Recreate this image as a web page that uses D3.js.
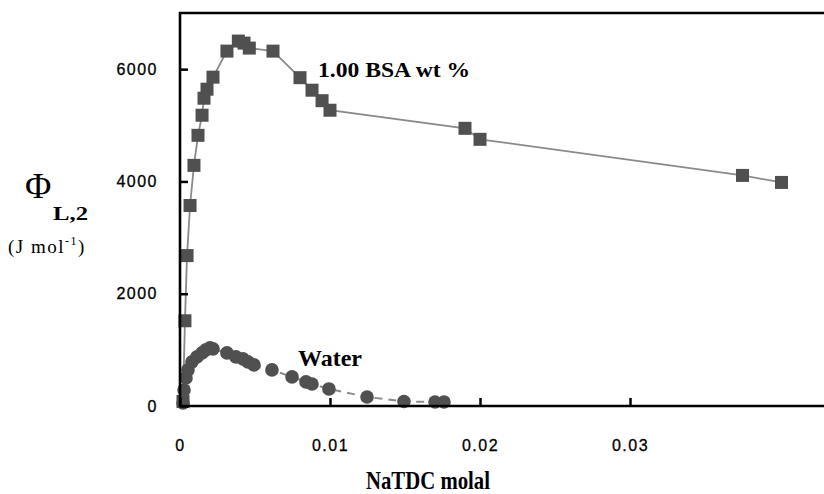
<!DOCTYPE html>
<html>
<head>
<meta charset="utf-8">
<script src="https://cdn.jsdelivr.net/npm/d3@7.9.0/dist/d3.min.js"></script>
<style>
  body { margin: 0; background: #fff; }
  svg { display: block; }
</style>
</head>
<body>
<svg id="chart" width="824" height="494"></svg>
<script>
// BSA 1.00 wt % series (squares)
const bsaX = [0.0002, 0.00033, 0.00047, 0.00067, 0.00093, 0.0012, 0.00147, 0.0016, 0.0018, 0.0022,
  0.00313, 0.00389, 0.00427, 0.00462, 0.0062, 0.008, 0.0088, 0.00947, 0.01, 0.019, 0.02, 0.0375, 0.0401];
const bsaY = [80, 1518, 2679, 3571, 4286, 4821, 5179, 5482, 5643, 5857,
  6321, 6500, 6464, 6375, 6321, 5848, 5625, 5438, 5268, 4946, 4750, 4107, 3982];

// water series (circles)
const waterX = [0.0002, 0.00027, 0.0004, 0.00053, 0.0008, 0.00113, 0.00147, 0.00173, 0.002, 0.0022,
  0.00313, 0.00373, 0.0042, 0.00453, 0.00493, 0.00613, 0.00747, 0.0084, 0.0088, 0.00993,
  0.01247, 0.01493, 0.017, 0.0176];
const waterY = [54, 286, 500, 643, 786, 875, 946, 1000, 1036, 1018,
  946, 875, 839, 786, 732, 643, 518, 429, 393, 304,
  161, 80, 71, 71];

const xTicks = [0, 0.01, 0.02, 0.03];
const xTickLabels = ["0", "0.01", "0.02", "0.03"];
const yTicks = [0, 2000, 4000, 6000];

const svg = d3.select("#chart");
const serif = "'Liberation Serif', 'Times New Roman', serif";

const x = d3.scaleLinear().domain([0, 0.045]).range([180, 855]);
const y = d3.scaleLinear().domain([0, 7000]).range([406, 13]);

const bsa = bsaX.map((d, i) => ({ x: d, y: bsaY[i] }));
const water = waterX.map((d, i) => ({ x: d, y: waterY[i] }));

const line = d3.line().x(d => x(d.x)).y(d => y(d.y));

// lines
svg.append("path")
  .attr("d", line(water))
  .attr("fill", "none")
  .attr("stroke", "#8a8a8a")
  .attr("stroke-width", 2)
  .attr("stroke-dasharray", "8,6");

svg.append("path")
  .attr("d", line(bsa))
  .attr("fill", "none")
  .attr("stroke", "#8a8a8a")
  .attr("stroke-width", 1.8);

// markers
svg.selectAll("circle.w")
  .data(water)
  .join("circle")
  .attr("class", "w")
  .attr("cx", d => x(d.x))
  .attr("cy", d => y(d.y))
  .attr("r", 6.8)
  .attr("fill", "#505050");

const sq = 13;
svg.selectAll("rect.b")
  .data(bsa)
  .join("rect")
  .attr("class", "b")
  .attr("x", d => x(d.x) - sq / 2)
  .attr("y", d => y(d.y) - sq / 2)
  .attr("width", sq)
  .attr("height", sq)
  .attr("fill", "#505050");

// axes
const yAxis = d3.axisLeft(y).tickValues(yTicks).tickSize(-8).tickPadding(22).tickFormat(d3.format("d"));
const xAxis = d3.axisBottom(x).tickValues(xTicks).tickSize(-8).tickPadding(34)
  .tickFormat((d, i) => xTickLabels[i]);

const gy = svg.append("g").attr("transform", "translate(180,0)").call(yAxis);
const gx = svg.append("g").attr("transform", "translate(0,406)").call(xAxis);

[gx, gy].forEach(g => {
  g.select(".domain").remove();
  g.selectAll(".tick line").attr("stroke", "#000").attr("stroke-width", 2.5);
  g.selectAll(".tick text")
    .attr("fill", "#000")
    .attr("stroke", "#000")
    .attr("stroke-width", 0.3)
    .style("font-family", "'Liberation Sans', Arial, sans-serif")
    .style("font-size", "16px")
    .style("letter-spacing", "1.5px");
});

// frame: left, bottom, top
svg.append("path")
  .attr("d", `M${x(0.045)},${y(7000)}H180V406H${x(0.045)}`)
  .attr("fill", "none")
  .attr("stroke", "#000")
  .attr("stroke-width", 2.6);

// series labels
svg.append("text")
  .attr("x", 318).attr("y", 77)
  .style("font-family", serif)
  .style("font-weight", "bold")
  .style("font-size", "22px")
  .attr("textLength", 152)
  .attr("lengthAdjust", "spacingAndGlyphs")
  .text("1.00 BSA wt %");

svg.append("text")
  .attr("x", 298).attr("y", 366)
  .style("font-family", serif)
  .style("font-weight", "bold")
  .style("font-size", "23px")
  .attr("textLength", 64)
  .attr("lengthAdjust", "spacingAndGlyphs")
  .text("Water");

// x title
svg.append("text")
  .attr("x", 366).attr("y", 489)
  .style("font-family", serif)
  .style("font-weight", "bold")
  .style("font-size", "25px")
  .attr("textLength", 124)
  .attr("lengthAdjust", "spacingAndGlyphs")
  .text("NaTDC molal");

// y title
svg.append("text")
  .attr("x", 25).attr("y", 198)
  .style("font-family", serif)
  .style("font-size", "36px")
  .text("\u03A6");

svg.append("text")
  .attr("x", 53).attr("y", 220)
  .style("font-family", serif)
  .style("font-weight", "bold")
  .style("font-size", "19px")
  .attr("textLength", 35)
  .attr("lengthAdjust", "spacingAndGlyphs")
  .text("L,2");

const unit = svg.append("text")
  .attr("x", 8).attr("y", 253)
  .style("font-family", serif)
  .style("font-size", "19px")
  .style("letter-spacing", "1.5px");
unit.append("tspan").text("(J mol");
unit.append("tspan").attr("dy", -8).style("font-size", "12px").text("-1");
unit.append("tspan").attr("dy", 8).text(")");
</script>
</body>
</html>
